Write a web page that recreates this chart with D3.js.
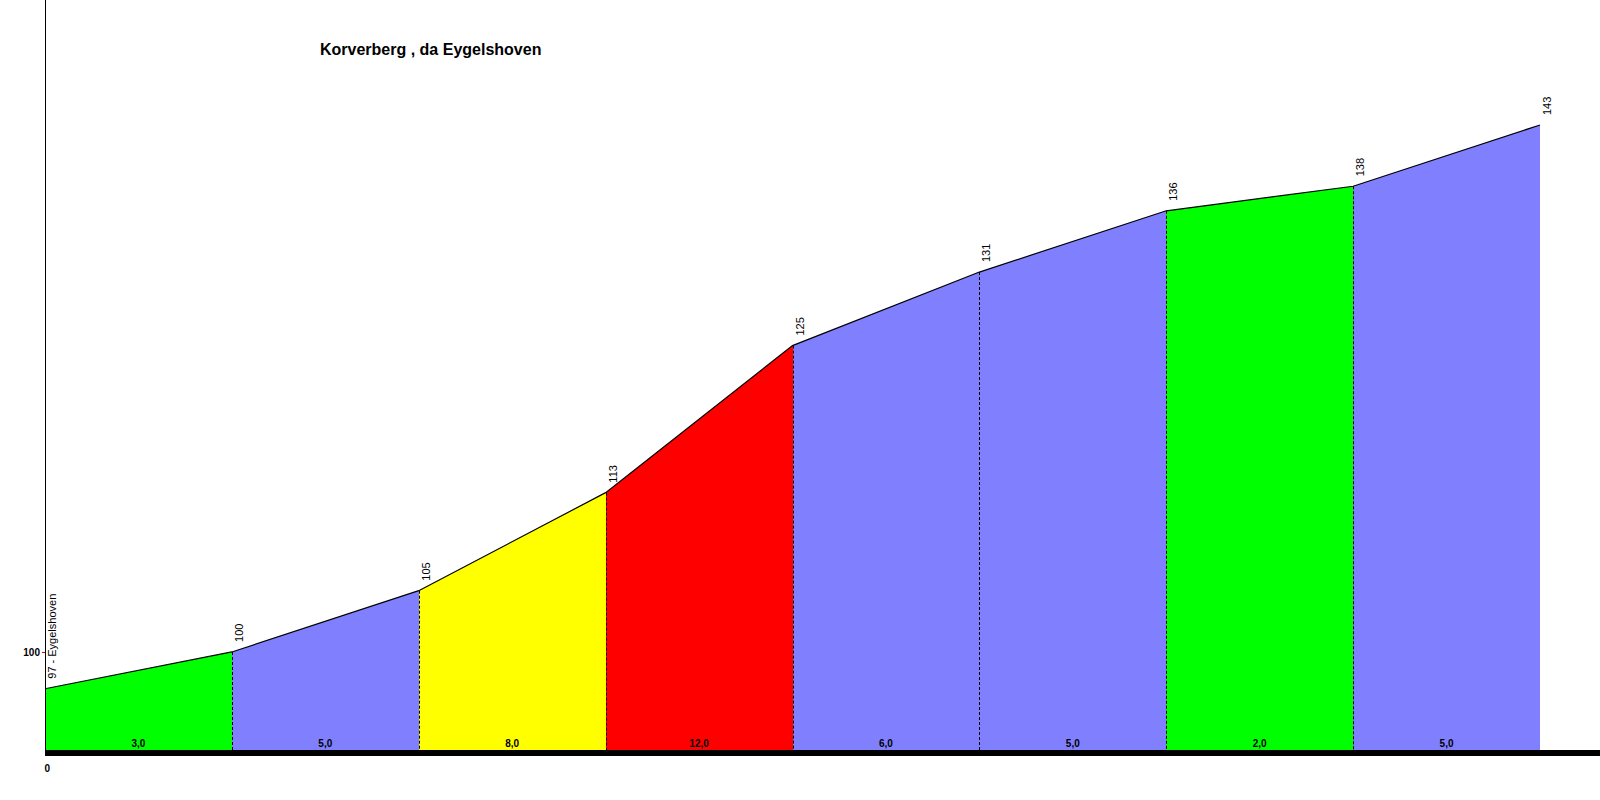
<!DOCTYPE html>
<html>
<head>
<meta charset="utf-8">
<script src="https://cdn.jsdelivr.net/npm/d3@7"></script>
<style>
  html, body { margin: 0; padding: 0; background: #fff; }
  svg { display: block; font-family: "Liberation Sans", Arial, sans-serif; }
</style>
</head>
<body>
<svg id="chart" width="1600" height="800"></svg>
<script>
// ---- data ----
const title = "Korverberg , da Eygelshoven";
const startName = "Eygelshoven";
const distances = [0, 0.1, 0.2, 0.3, 0.4, 0.5, 0.6, 0.7, 0.8];      // km
const elevations = [97, 100, 105, 113, 125, 131, 136, 138, 143];   // m
const gradients = [3, 5, 8, 12, 6, 5, 2, 5];                       // %
const yTicks = [100];
const xTicks = [0];

// ---- layout ----
const svg = d3.select("#chart");
const x = d3.scaleLinear().domain([0, 0.8]).range([45, 1540]);
const y = d3.scaleLinear().domain([92, 143]).range([750, 125]);
const color = d3.scaleThreshold().domain([4, 7, 10])
  .range(["#00ff00", "#8080ff", "#ffff00", "#ff0000"]);

const pts = distances.map((d, i) => ({ d, e: elevations[i] }));
const segs = gradients.map((g, i) => ({ g, a: pts[i], b: pts[i + 1] }));

// filled segments
svg.append("g").selectAll("path").data(segs).join("path")
  .attr("d", s => `M${x(s.a.d)},${y(92)}L${x(s.a.d)},${y(s.a.e)}L${x(s.b.d)},${y(s.b.e)}L${x(s.b.d)},${y(92)}Z`)
  .attr("fill", s => color(s.g))
  .attr("shape-rendering", "crispEdges");

// dashed separators
svg.append("g").selectAll("line").data(pts.slice(1, -1)).join("line")
  .attr("x1", p => Math.round(x(p.d)) + 0.5).attr("x2", p => Math.round(x(p.d)) + 0.5)
  .attr("y1", p => y(p.e)).attr("y2", y(92))
  .attr("stroke", "#000").attr("stroke-width", 1)
  .attr("stroke-dasharray", "3,2");

// profile line
svg.append("path").datum(pts)
  .attr("d", d3.line().x(p => x(p.d)).y(p => y(p.e)))
  .attr("fill", "none").attr("stroke", "#000").attr("stroke-width", 1.2);

// vertical axis line
svg.append("line")
  .attr("x1", 45.5).attr("x2", 45.5).attr("y1", 0).attr("y2", 750)
  .attr("stroke", "#000").attr("stroke-width", 1);

// y axis tick
const yAxis = svg.append("g").attr("transform", "translate(45,0)")
  .call(d3.axisLeft(y).tickValues(yTicks).tickSize(3).tickPadding(2));
yAxis.select(".domain").remove();
yAxis.selectAll(".tick line").attr("stroke", "#cc0000");
yAxis.selectAll(".tick text").attr("font-size", 10).attr("font-weight", "bold")
  .attr("font-family", "Liberation Sans, Arial, sans-serif").attr("fill", "#000");

// baseline bar
svg.append("rect").attr("x", 45).attr("y", 750).attr("width", 1555).attr("height", 6).attr("fill", "#000");

// x axis tick label
const xAxis = svg.append("g").attr("transform", "translate(0,756)")
  .call(d3.axisBottom(x).tickValues(xTicks).tickSize(0).tickPadding(9).tickFormat(d3.format("d")));
xAxis.select(".domain").remove();
xAxis.selectAll(".tick text").attr("font-size", 10).attr("font-weight", "bold")
  .attr("font-family", "Liberation Sans, Arial, sans-serif").attr("fill", "#000")
  .attr("text-anchor", "start").attr("dx", -1);

// gradient labels
svg.append("g").selectAll("text").data(segs).join("text")
  .attr("x", s => (x(s.a.d) + x(s.b.d)) / 2).attr("y", 747)
  .attr("text-anchor", "middle").attr("font-size", 10).attr("font-weight", "bold")
  .text(s => d3.format(".1f")(s.g).replace(".", ","));

// elevation labels (rotated)
svg.append("g").selectAll("text").data(pts).join("text")
  .attr("transform", p => `translate(${x(p.d) + 11},${y(p.e) - 10}) rotate(-90)`)
  .attr("font-size", 11)
  .text((p, i) => i === 0 ? `${p.e} - ${startName}` : `${p.e}`);

// title
svg.append("text").attr("x", 320).attr("y", 55)
  .attr("font-size", 16).attr("font-weight", "bold").text(title);
</script>
</body>
</html>
